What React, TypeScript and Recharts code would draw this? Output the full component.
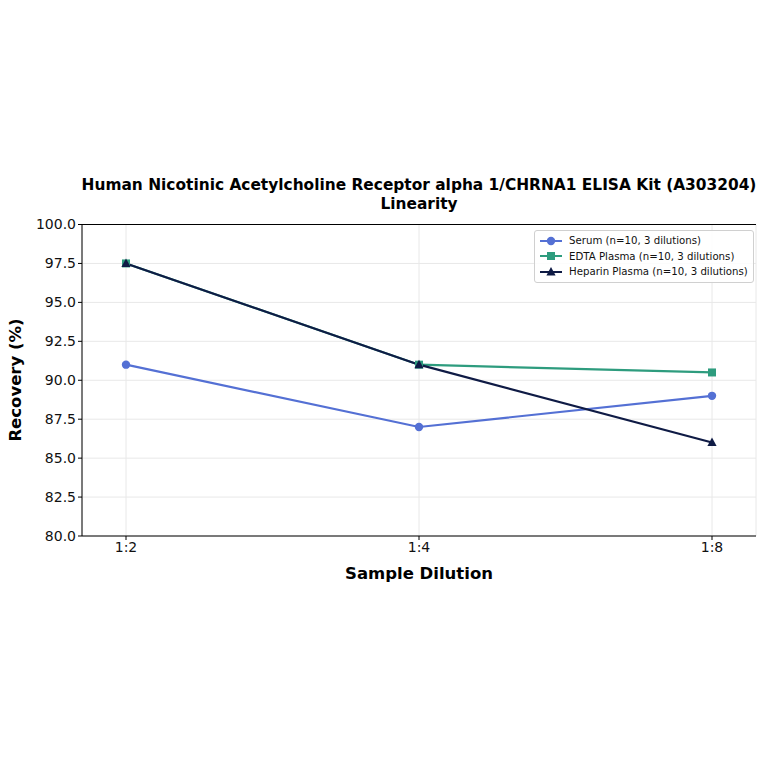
import React from 'react';
import {
  LineChart,
  Line,
  XAxis,
  YAxis,
  CartesianGrid,
  ReferenceLine
} from 'recharts';

const dilutions = ['1:2', '1:4', '1:8'];
const serum = [91.0, 87.0, 89.0];
const edta = [97.5, 91.0, 90.5];
const heparin = [97.5, 91.0, 86.0];
const yTicks = [80, 82.5, 85, 87.5, 90, 92.5, 95, 97.5, 100];

const seriesInfo = [
  { key: 'serum', name: 'Serum (n=10, 3 dilutions)', color: '#5470d4', shape: 'circle' },
  { key: 'edta', name: 'EDTA Plasma (n=10, 3 dilutions)', color: '#2e9c7e', shape: 'square' },
  { key: 'heparin', name: 'Heparin Plasma (n=10, 3 dilutions)', color: '#0f1b45', shape: 'triangle' }
];

const chartData = dilutions.map((d, i) => ({
  dilution: d,
  serum: serum[i],
  edta: edta[i],
  heparin: heparin[i]
}));

const FONT = '"DejaVu Sans", Verdana, sans-serif';

const Marker = ({ cx, cy, color, shape }: any) => {
  if (cx == null || cy == null) return null;
  if (shape === 'square') {
    return <rect x={cx - 4} y={cy - 4} width={8} height={8} fill={color} />;
  }
  if (shape === 'triangle') {
    return <polygon points={`${cx},${cy - 5} ${cx - 4.6},${cy + 3.5} ${cx + 4.6},${cy + 3.5}`} fill={color} />;
  }
  return <circle cx={cx} cy={cy} r={4.2} fill={color} />;
};

// legend drawn outside recharts so it does not steal plot space
const LegendBox = () => (
  <div
    style={{
      position: 'absolute',
      left: 534,
      top: 230,
      border: '1px solid #d0d0d0',
      borderRadius: 3,
      background: 'rgba(255,255,255,0.85)',
      padding: '2px 5px 2px 4px',
      fontFamily: FONT,
      fontSize: 10.2,
      color: '#111'
    }}
  >
    {seriesInfo.map((s) => (
      <div key={s.key} style={{ display: 'flex', alignItems: 'center', height: 15.5 }}>
        <svg width={24} height={10} style={{ marginRight: 6 }}>
          <line x1={1} y1={5} x2={23} y2={5} stroke={s.color} strokeWidth={2} />
          <Marker cx={12} cy={5} color={s.color} shape={s.shape} />
        </svg>
        <span>{s.name}</span>
      </div>
    ))}
  </div>
);

const App: React.FC = () => {
  return (
    <div style={{ position: 'absolute', left: 0, top: 0, width: 764, height: 764, background: '#fff', fontFamily: FONT }}>
      <div
        style={{
          position: 'absolute',
          left: 40,
          width: 758,
          top: 176,
          textAlign: 'center',
          fontWeight: 'bold',
          fontSize: 15.4,
          lineHeight: '19px',
          color: '#000'
        }}
      >
        Human Nicotinic Acetylcholine Receptor alpha 1/CHRNA1 ELISA Kit (A303204)
        <br />
        Linearity
      </div>
      <div
        style={{
          position: 'absolute',
          left: 82,
          width: 674,
          top: 564,
          textAlign: 'center',
          fontWeight: 'bold',
          fontSize: 16.5,
          color: '#000'
        }}
      >
        Sample Dilution
      </div>
      <div
        style={{
          position: 'absolute',
          left: 15,
          top: 380,
          transform: 'translate(-50%, -50%) rotate(-90deg)',
          whiteSpace: 'nowrap',
          fontWeight: 'bold',
          fontSize: 16.5,
          color: '#000'
        }}
      >
        Recovery (%)
      </div>
      <LineChart
        width={764}
        height={764}
        data={chartData}
        margin={{ top: 224.5, right: 8, bottom: 198, left: 22 }}
        style={{ position: 'absolute', left: 0, top: 0 }}
      >
        <CartesianGrid stroke="#e8e8e8" strokeWidth={1} />
        <XAxis
          dataKey="dilution"
          padding={{ left: 44, right: 44 }}
          height={30}
          stroke="#000"
          tickLine={{ stroke: '#000' }}
          tickSize={4}
          tick={{ fill: '#111', fontSize: 14, fontFamily: FONT }}
        />
        <YAxis
          domain={[80, 100]}
          ticks={yTicks}
          width={60}
          stroke="#000"
          tickSize={4}
          tickFormatter={(v: number) => v.toFixed(1)}
          tick={{ fill: '#111', fontSize: 14, fontFamily: FONT }}
          interval={0}
        />
        <YAxis yAxisId="right" orientation="right" domain={[80, 100]} width={0} tick={false} tickLine={false} stroke="#000" />
        <ReferenceLine y={100} stroke="#000" strokeWidth={1} ifOverflow="extendDomain" />
        {seriesInfo.map((s) => (
          <Line
            key={s.key}
            dataKey={s.key}
            name={s.name}
            stroke={s.color}
            strokeWidth={2.2}
            isAnimationActive={false}
            dot={(p: any) => <Marker key={`${s.key}-${p.index}`} cx={p.cx} cy={p.cy} color={s.color} shape={s.shape} />}
            activeDot={false}
          />
        ))}
      </LineChart>
      <LegendBox />
    </div>
  );
};

export default App;
